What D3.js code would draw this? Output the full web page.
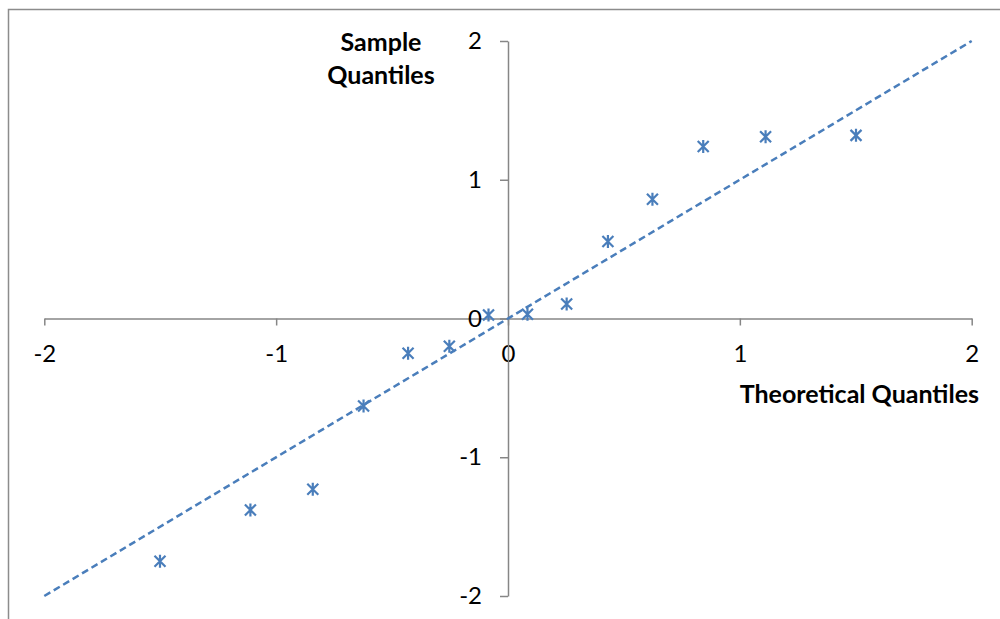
<!DOCTYPE html>
<html>
<head>
<meta charset="utf-8">
<script src="https://cdn.jsdelivr.net/npm/d3@7"></script>
<style>
    body { margin: 0; background: #fff; }
    #qq-plot { width: 1000px; height: 619px; }
    text { font-family: Lato, "Open Sans", sans-serif; }
</style>
</head>
<body>
<div id="qq-plot"></div>
<script>

// theoretical quantiles (x) and sample quantiles (y)
let theoretical = [-1.501, -1.111, -0.842, -0.623, -0.431, -0.253, -0.084,
                   0.084, 0.253, 0.431, 0.623, 0.842, 1.111, 1.501];
let sample = [-1.75, -1.38, -1.23, -0.63, -0.25, -0.20, 0.025,
              0.03, 0.105, 0.555, 0.86, 1.24, 1.31, 1.32];

let xTicks = [-2, -1, 0, 1, 2];
let yTicks = [-2, -1, 0, 1, 2];

// y = x reference line, drawn between these x values
let refLine = [-2, 2];

class QQPlotVis {

    constructor(parentElement, xData, yData) {
        this.parentElement = parentElement;
        this.data = xData.map((d, i) => ({x: d, y: yData[i]}));
        this.initVis();
    }

    initVis() {
        let vis = this;

        vis.width = 1000;
        vis.height = 619;

        vis.svg = d3.select("#" + vis.parentElement)
            .append("svg")
            .attr("width", vis.width)
            .attr("height", vis.height);

        // chart frame (right and bottom edges are cut off in the original)
        vis.svg.append("rect")
            .attr("x", 8.5)
            .attr("y", 9.5)
            .attr("width", 1000)
            .attr("height", 620)
            .attr("fill", "none")
            .attr("stroke", "#8c8c8c")
            .attr("stroke-width", 1.5);

        vis.x = d3.scaleLinear().domain([-2, 2]).range([44.3, 971.7]);
        vis.y = d3.scaleLinear().domain([-2, 2]).range([596, 41]);

        vis.xAxis = d3.axisBottom(vis.x)
            .tickValues(xTicks)
            .tickFormat(d => String(d))
            .tickSize(7)
            .tickSizeOuter(0)
            .tickPadding(19);

        vis.yAxis = d3.axisLeft(vis.y)
            .tickValues(yTicks)
            .tickFormat(d => String(d))
            .tickSize(8)
            .tickSizeOuter(0)
            .tickPadding(18);

        vis.svg.append("g")
            .attr("class", "x-axis")
            .attr("transform", "translate(0," + vis.y(0) + ")")
            .call(vis.xAxis);

        vis.svg.append("g")
            .attr("class", "y-axis")
            .attr("transform", "translate(" + vis.x(0) + ",0)")
            .call(vis.yAxis);

        vis.svg.selectAll(".x-axis, .y-axis").selectAll("path, line")
            .attr("stroke", "#868686")
            .attr("stroke-width", 1.5);

        vis.svg.selectAll(".x-axis, .y-axis").selectAll("text")
            .attr("fill", "#000")
            .style("font-size", "24px");

        // axis titles
        vis.svg.append("text")
            .attr("x", 381)
            .attr("y", 51)
            .attr("text-anchor", "middle")
            .style("font-size", "25px")
            .style("font-weight", "bold")
            .text("Sample");

        vis.svg.append("text")
            .attr("x", 381)
            .attr("y", 84)
            .attr("text-anchor", "middle")
            .style("font-size", "25px")
            .style("font-weight", "bold")
            .text("Quantiles");

        vis.svg.append("text")
            .attr("x", 979)
            .attr("y", 403)
            .attr("text-anchor", "end")
            .style("font-size", "25px")
            .style("font-weight", "bold")
            .text("Theoretical Quantiles");

        vis.updateVis();
    }

    updateVis() {
        let vis = this;

        vis.svg.append("line")
            .attr("class", "ref-line")
            .attr("x1", vis.x(refLine[0]))
            .attr("y1", vis.y(refLine[0]))
            .attr("x2", vis.x(refLine[1]))
            .attr("y2", vis.y(refLine[1]))
            .attr("stroke", "#4a7ebb")
            .attr("stroke-width", 2.5)
            .attr("stroke-dasharray", "7,4");

        // excel style star marker: an X with a vertical bar
        let star = "M-5.5,-5.5L5.5,5.5M-5.5,5.5L5.5,-5.5M0,-6.5L0,6.5";

        vis.svg.selectAll(".qq-point")
            .data(vis.data)
            .enter()
            .append("path")
            .attr("class", "qq-point")
            .attr("d", star)
            .attr("transform", d => "translate(" + vis.x(d.x) + "," + vis.y(d.y) + ")")
            .attr("fill", "none")
            .attr("stroke", "#4a7ebb")
            .attr("stroke-width", 2.2);
    }
}

new QQPlotVis("qq-plot", theoretical, sample);

</script>
</body>
</html>
